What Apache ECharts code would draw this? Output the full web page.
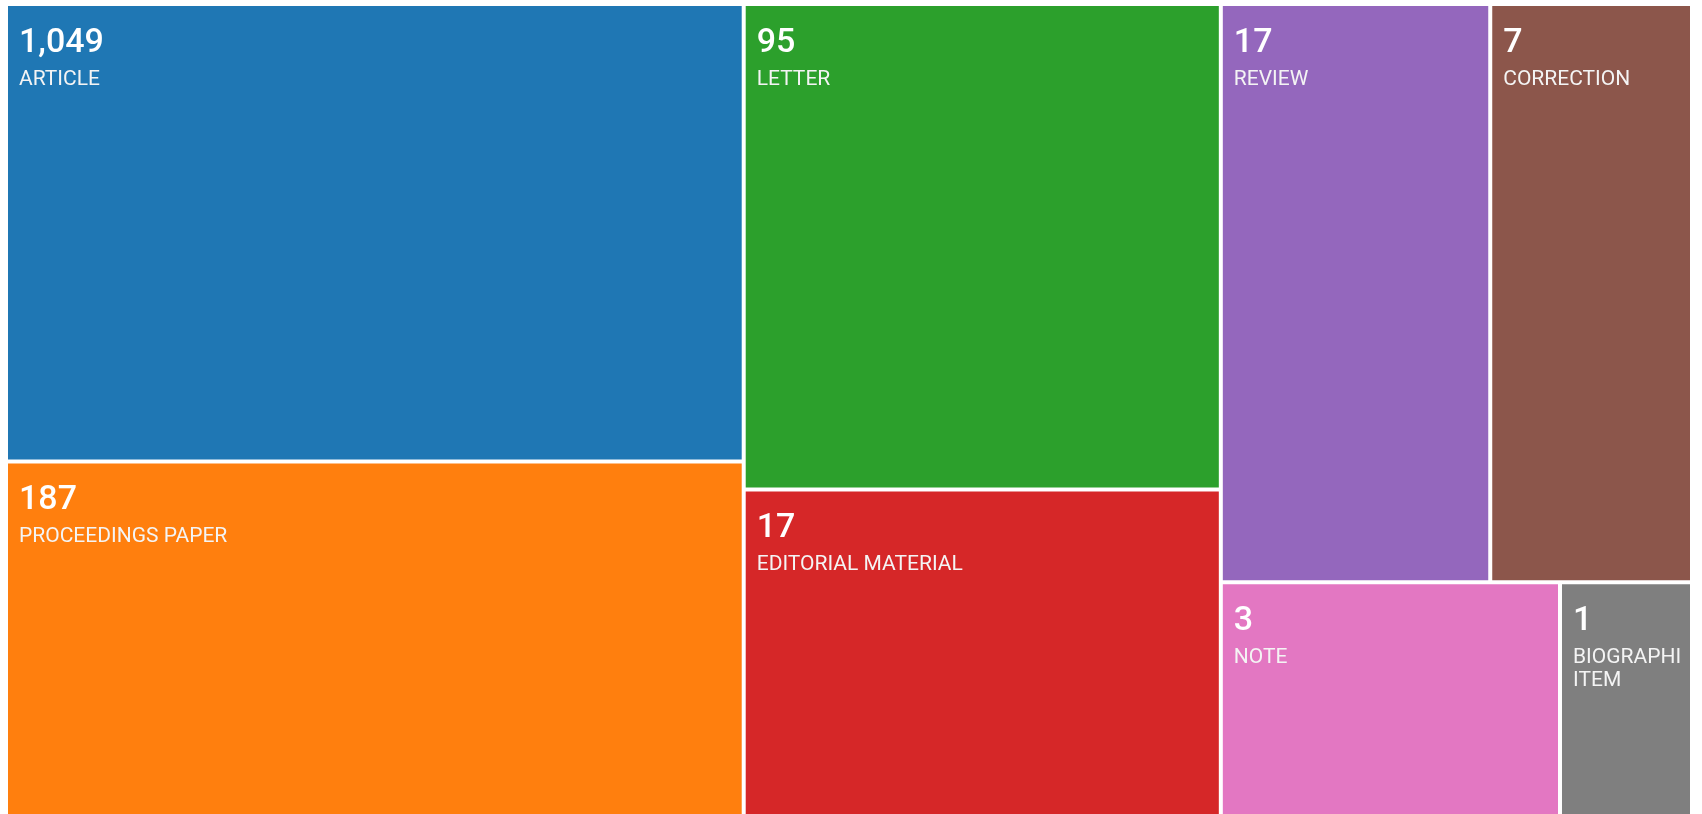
<!DOCTYPE html>
<html>
<head>
<meta charset="utf-8">
<title>Document types</title>
<script src="https://cdn.jsdelivr.net/npm/echarts@6/dist/echarts.min.js"></script>
<style>
  html, body { margin: 0; padding: 0; background: #fff; }
  #chart { width: 1702px; height: 814px; }
</style>
</head>
<body>
<div id="chart"></div>
<script>
// Record counts per document type (already in descending order)
const docTypes = ['ARTICLE', 'PROCEEDINGS PAPER', 'LETTER', 'EDITORIAL MATERIAL', 'REVIEW', 'CORRECTION', 'NOTE', 'BIOGRAPHICAL ITEM'];
const recordCounts = [1049, 187, 95, 17, 17, 7, 3, 1];
const typeColors = ['#1f77b4', '#ff7f0e', '#2ca02c', '#d62728', '#9467bd', '#8c564b', '#e377c2', '#7f7f7f'];

// Tile area follows a logarithmic scale of the count, so small types stay readable
const areaScale = v => Math.log(v) + 0.7;

const nodes = docTypes.map((name, i) => ({
  name: name,
  value: [areaScale(recordCounts[i]), recordCounts[i]],
  itemStyle: { color: typeColors[i] }
}));

const chart = echarts.init(document.getElementById('chart'), null, { renderer: 'canvas' });
chart.setOption({
  animation: false,
  series: [{
    type: 'treemap',
    left: 8,
    top: 6,
    right: 12,
    bottom: 0,
    roam: false,
    nodeClick: false,
    sort: false,
    breadcrumb: { show: false },
    squareRatio: 0.5 * (1 + Math.sqrt(5)),
    levels: [{ itemStyle: { gapWidth: 4, borderWidth: 0, borderColor: '#fff' } }],
    itemStyle: { borderWidth: 0 },
    label: {
      show: true,
      position: [6, 7],
      overflow: 'truncate',
      ellipsis: '',
      formatter: p => {
        const count = p.value[1].toLocaleString('en-US');
        const lines = p.name.split(' ');
        const nameText = p.name === 'BIOGRAPHICAL ITEM' ? lines.map(l => '{n|' + l + '}').join('\n') : '{n|' + p.name + '}';
        return '{v|' + count + '}\n' + nameText;
      },
      rich: {
        v: { fontFamily: 'Roboto', fontSize: 34, fontWeight: 500, color: '#fff', lineHeight: 50 },
        n: { fontFamily: 'Roboto', fontSize: 21, color: '#f4f4f4', lineHeight: 23 }
      }
    },
    data: nodes
  }]
});
</script>
</body>
</html>
